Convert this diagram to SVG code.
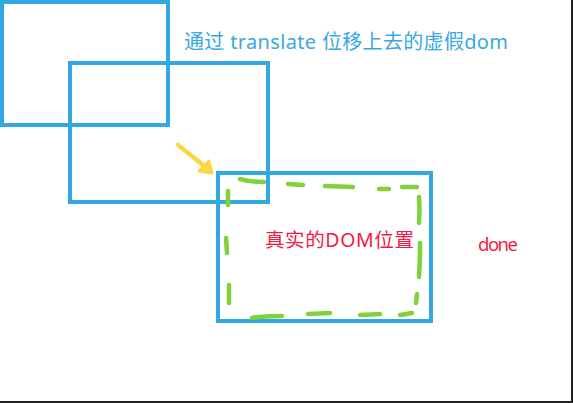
<svg xmlns="http://www.w3.org/2000/svg" width="573" height="403" viewBox="0 0 573 403">
<style>
.box{fill:none;stroke:#33a9e4;stroke-width:4;}
.dash{fill:none;stroke:#7ed23c;stroke-width:4.5;stroke-linecap:round;}
.blue{font-family:"Noto Sans","Noto Sans CJK SC",sans-serif;fill:#3aa8e3;font-size:20px;}
.red{font-family:"Noto Sans","Noto Sans CJK SC",sans-serif;fill:#f5193f;}
</style>
<rect width="573" height="403" fill="#ffffff"/>
<path d="M572 0 V402 H0" fill="none" stroke="#222" stroke-width="2"/>
<g id="fake-dom-1"><rect class="box" x="2" y="2" width="166" height="123"/></g>
<g id="fake-dom-2"><rect class="box" x="70" y="63" width="198" height="139"/></g>
<g id="real-dom"><rect class="box" x="218" y="173" width="213" height="148"/></g>
<g id="green-outline">
<path class="dash" d="M240 179 Q250 182 264 182"/>
<path class="dash" d="M288 184 L303 185"/>
<path class="dash" d="M325 186 L353 187"/>
<path class="dash" d="M379 189 L389 189"/>
<path class="dash" d="M402 187 L417 187"/>
<path class="dash" d="M419 197 Q420 210 419 223"/>
<path class="dash" d="M420 243 Q420 262 419 277"/>
<path class="dash" d="M417 294 L416 303"/>
<path class="dash" d="M412 313 L400 315"/>
<path class="dash" d="M380 314 L360 315"/>
<path class="dash" d="M330 313 L308 314"/>
<path class="dash" d="M282 316 Q262 316 252 318"/>
<path class="dash" d="M229 285 L229 303"/>
<path class="dash" d="M226 238 L227 253"/>
<path class="dash" d="M228 191 L228 205"/>
</g>
<g id="connectors">
<path d="M178 145 L208 169" fill="none" stroke="#f8d845" stroke-width="4.5" stroke-linecap="round"/>
<path d="M199 171 L212 173 L209 161 Z" fill="#f8d845" stroke="#f8d845" stroke-width="3" stroke-linejoin="round"/>
</g>
<g id="labels">
<text class="blue" x="184" y="49" textLength="324" lengthAdjust="spacing">通过 translate 位移上去的虚假dom</text>
<text class="red" x="265" y="247" font-size="19.5" textLength="149" lengthAdjust="spacing">真实的DOM位置</text>
<text class="red" x="478" y="251" font-size="18.5" textLength="40" lengthAdjust="spacing">done</text>
</g>
</svg>
